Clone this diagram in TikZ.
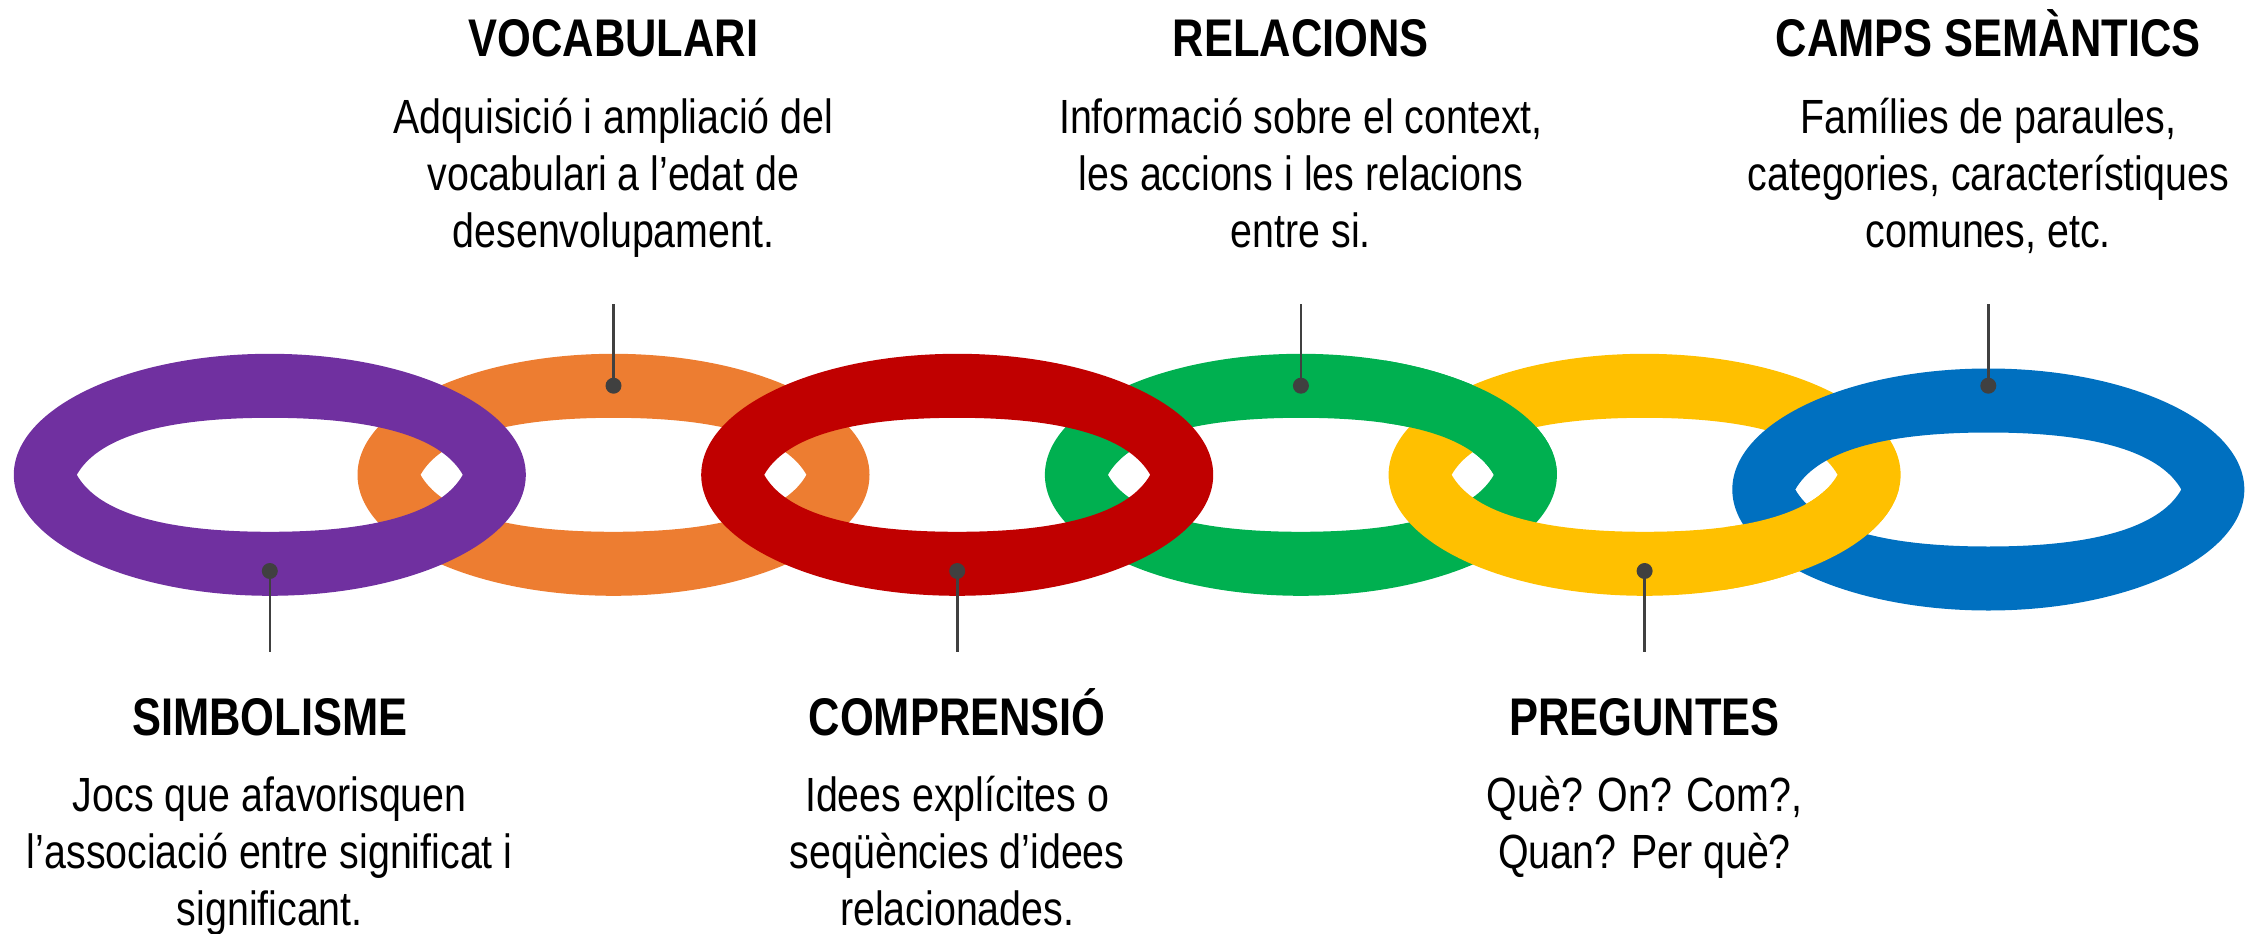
\documentclass[tikz,border=0pt]{standalone}
\usepackage{fontspec}
\setmainfont{Liberation Sans}[FakeStretch=0.82]
\definecolor{cPurple}{HTML}{7030A0}
\definecolor{cOrange}{HTML}{ED7D31}
\definecolor{cRed}{HTML}{C00000}
\definecolor{cGreen}{HTML}{00B050}
\definecolor{cYellow}{HTML}{FFC000}
\definecolor{cBlue}{HTML}{0070C0}
\definecolor{cLead}{HTML}{404040}
\tikzset{
  pics/ring/.style={code={
    \fill[#1, even odd rule] (0,0) ellipse [x radius=256, y radius=121]
      (193,0) .. controls (173.7,34.2) and (115.8,57) .. (0,57)
      .. controls (-115.8,57) and (-173.7,34.2) .. (-193,0)
      .. controls (-173.7,-34.2) and (-115.8,-57) .. (0,-57)
      .. controls (115.8,-57) and (173.7,-34.2) .. (193,0) -- cycle;
  }},
  dot/.style={circle, fill=cLead, inner sep=0, minimum size=16pt},
  lead/.style={draw=cLead, line width=2.6pt},
  title/.style={anchor=base, inner sep=0, font=\bfseries\fontsize{53}{60}\selectfont},
  body/.style={anchor=base, inner sep=0, align=center, font=\fontsize{48}{57}\selectfont},
}
\begin{document}
\begin{tikzpicture}[x=1pt, y=-1pt]
\useasboundingbox (0,0) rectangle (2262,934);
% rings
\pic at (613.5,474.8) {ring=cOrange};
\pic at (269.8,474.8) {ring=cPurple};
\pic at (1300.9,474.8) {ring=cGreen};
\pic at (957.2,474.8) {ring=cRed};
\pic at (1644.6,474.8) {ring=cYellow};
\begin{scope}
  \clip (1385,300) rectangle (1565,474.8);
  \pic at (1300.9,474.8) {ring=cGreen};
\end{scope}
\pic at (1988.3,489.5) {ring=cBlue};
\begin{scope}
  \clip (1725,489.5) rectangle (1910,620);
  \pic at (1644.6,474.8) {ring=cYellow};
\end{scope}
% leader lines and dots
\node[dot] (d1) at (269.8,571) {};
\node[dot] (d2) at (613.5,385.7) {};
\node[dot] (d3) at (957.2,571) {};
\node[dot] (d4) at (1300.9,385.7) {};
\node[dot] (d5) at (1644.6,571) {};
\node[dot] (d6) at (1988.3,385.7) {};
\coordinate (e1) at (269.8,652);
\coordinate (e2) at (613.5,304);
\coordinate (e3) at (957.2,652);
\coordinate (e4) at (1300.9,304);
\coordinate (e5) at (1644.6,652);
\coordinate (e6) at (1988.3,304);
\foreach \i in {1,...,6} \draw[lead] (d\i.center) -- (e\i);
% texts top (base anchor = last line baseline)
\node[title] (t2) at (613.5,57) {VOCABULARI};
\node[body] (b2) at (613.5,247) {Adquisició i ampliació del\\vocabulari a l’edat de\\desenvolupament.};
\node[title] (t4) at (1300.9,57) {RELACIONS};
\node[body] (b4) at (1300.9,247) {Informació sobre el context,\\les accions i les relacions\\entre si.};
\node[title] (t6) at (1988.3,57) {CAMPS SEMÀNTICS};
\node[body] (b6) at (1988.3,247) {Famílies de paraules,\\categories, característiques\\comunes, etc.};
% texts bottom
\node[title] (t1) at (269.8,735) {SIMBOLISME};
\node[body] (b1) at (269.8,925) {Jocs que afavorisquen\\l’associació entre significat i\\significant.};
\node[title] (t3) at (957.2,735) {COMPRENSIÓ};
\node[body] (b3) at (957.2,925) {Idees explícites o\\seqüències d’idees\\relacionades.};
\node[title] (t5) at (1644.6,735) {PREGUNTES};
\node[body] (b5) at (1644.6,868) {Què? On? Com?,\\Quan? Per què?};
\end{tikzpicture}
\end{document}
